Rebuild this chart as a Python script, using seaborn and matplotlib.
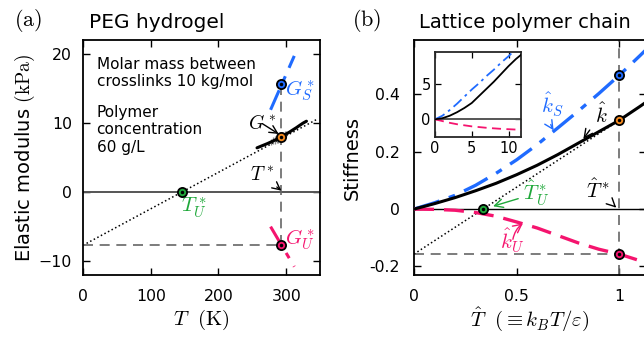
import numpy as np
import pandas as pd
import matplotlib
matplotlib.use("Agg")
import matplotlib.pyplot as plt
import seaborn as sns

# ---------------- data ----------------
# (a) PEG hydrogel
T_star = 293.0
G_S_star = 15.6
G_star = 8.0
G_U_star = -7.7
T_U_star = 146.0

exp_T = [257, 262, 267, 272, 277, 282, 285, 288, 291, 294, 297, 300, 305, 310, 315, 320, 325, 330]
exp_G = [6.40, 6.60, 6.80, 7.00, 7.22, 7.45, 7.59, 7.74, 7.89, 8.05, 8.22, 8.39, 8.68, 9.00, 9.31, 9.65, 9.98, 10.25]
err_T = [278, 281, 284, 286, 288, 290, 292, 294, 296, 298, 300]
err_G = [7.28, 7.41, 7.55, 7.64, 7.74, 7.84, 7.94, 8.05, 8.16, 8.28, 8.39]
err_size = [0.45, 0.5, 0.55, 0.6, 0.6, 0.6, 0.6, 0.6, 0.55, 0.5, 0.45]

tan_a_T = [0, 345]
tan_a_G = [-7.7, 10.5]
GS_line_T = [277, 312]
GS_line_G = [11.9, 19.7]
GU_line_T = [277, 312]
GU_line_G = [-5.0, -10.8]

# (b) lattice polymer chain
Th = [0, 0.1, 0.2, 0.3, 0.4, 0.5, 0.6, 0.7, 0.8, 0.9, 1.0, 1.1, 1.15]
k_hat = [0, 0.019, 0.040, 0.064, 0.090, 0.120, 0.153, 0.190, 0.230, 0.270, 0.310, 0.358, 0.383]
kS_hat = [0, 0.022, 0.048, 0.083, 0.125, 0.172, 0.225, 0.283, 0.342, 0.403, 0.467, 0.535, 0.570]
kU_hat = [0, -0.001, -0.004, -0.012, -0.025, -0.045, -0.066, -0.092, -0.118, -0.140, -0.157, -0.180, -0.192]
Th_star = 1.0
Th_U_star = 0.336
tan_b_T = [0, 1.0]
tan_b_k = [-0.157, 0.310]

# inset
ins_T = [0, 1, 2, 3, 4, 5, 6, 7, 8, 9, 10, 11, 11.7]
ins_k = [0, 0.15, 0.5, 1.0, 1.6, 2.3, 3.3, 4.3, 5.3, 6.4, 7.5, 8.5, 9.1]
ins_kS = [0, 0.5, 1.3, 2.2, 3.2, 4.2, 5.1, 6.1, 7.0, 8.0, 8.9, 9.9, 10.6]
ins_kU = [0, -0.25, -0.5, -0.7, -0.85, -1.0, -1.1, -1.2, -1.28, -1.35, -1.4, -1.45, -1.47]

# ---------------- style ----------------
sns.set_theme(style="ticks")
plt.rcParams["font.family"] = ["DejaVu Sans"]
plt.rcParams["mathtext.fontset"] = "cm"
plt.rcParams["axes.linewidth"] = 1.3
plt.rcParams["text.color"] = "black"
plt.rcParams["axes.labelcolor"] = "black"
plt.rcParams["xtick.color"] = "black"
plt.rcParams["ytick.color"] = "black"

BLUE = "#1f6bff"
PINK = "#f5146e"
GREEN = "#1fa83a"
ORANGE = "#f58a1f"
GREY = "#666666"

fig = plt.figure(figsize=(6.44, 3.37), dpi=100)
W, H = 644, 337
axA = fig.add_axes([83 / W, 1 - 275 / H, (320 - 83) / W, (275 - 40) / H])
axB = fig.add_axes([414 / W, 1 - 275 / H, (646 - 414) / W, (275 - 40) / H])
axI = fig.add_axes([435 / W, 1 - 137 / H, (521 - 435) / W, (137 - 52) / H])


def style_ax(ax, fs=11.3):
    ax.tick_params(direction="in", top=True, right=True, length=5, width=1.0,
                   labelsize=fs, colors="black")
    ax.tick_params(axis="x", pad=10)
    ax.tick_params(axis="y", pad=8)
    for s in ax.spines.values():
        s.set_color("black")


def marker(ax, x, y, c):
    ax.plot([x], [y], "o", ms=6.6, mfc=c, mec="black", mew=1.3, zorder=10)
    ax.plot([x], [y], "o", ms=1.5, color="black", zorder=11)


# ---------------- panel (a) ----------------
ax = axA
ax.set_xlim(0, 350)
ax.set_ylim(-12, 22)
ax.axhline(0, color="#555555", lw=1.4, zorder=1)
ax.plot(tan_a_T, tan_a_G, ":", color="black", lw=1.1, zorder=2)
ax.plot([T_star, T_star], [G_U_star, G_S_star], color=GREY, lw=1.2, dashes=(6, 4), zorder=2)
ax.plot([0, T_star], [G_U_star, G_U_star], color=GREY, lw=1.2, dashes=(6, 4), zorder=2)
ax.plot(GS_line_T, GS_line_G, color=BLUE, lw=2.2, dashes=(7, 3, 2, 3), zorder=3)
ax.plot(GU_line_T, GU_line_G, color=PINK, lw=2.2, dashes=(7, 3, 2, 3), zorder=3)
ax.errorbar(err_T, err_G, yerr=err_size, fmt="none", ecolor="#888888", elinewidth=0.9, zorder=4)
sns.lineplot(x=exp_T, y=exp_G, ax=ax, color="black", lw=2.2, zorder=5)
marker(ax, T_star, G_S_star, BLUE)
marker(ax, T_star, G_star, ORANGE)
marker(ax, T_star, G_U_star, PINK)
marker(ax, T_U_star, 0, GREEN)
ax.set_xticks([0, 100, 200, 300])
ax.set_yticks([-10, 0, 10, 20])
style_ax(ax)
ax.set_xlabel(r"$T\ \ (\mathrm{K})$", fontsize=15, labelpad=3)
ax.set_ylabel(r"Elastic modulus $(\mathrm{kPa})$", fontsize=14, labelpad=1)

ax.text(20, 19.6, "Molar mass between\ncrosslinks 10 kg/mol", fontsize=11, va="top",
        linespacing=1.2)
ax.text(20, 12.6, "Polymer\nconcentration\n60 g/L", fontsize=11, va="top", linespacing=1.2)
ax.text(298, 14.7, r"$G_S^*$", color=BLUE, fontsize=15, va="center")
ax.text(298, -6.9, r"$G_U^*$", color=PINK, fontsize=15, va="center")
ax.text(144, -2.3, r"$T_U^*$", color=GREEN, fontsize=15, va="center")
ax.annotate(r"$G^*$", xy=(T_star - 4, G_star + 0.4), xytext=(244, 9.9), fontsize=14,
            va="center", arrowprops=dict(arrowstyle="->", lw=1.0, color="black",
                                         shrinkA=0, shrinkB=0))
ax.annotate(r"$T^*$", xy=(T_star, 0.2), xytext=(246, 2.5), fontsize=14,
            va="center", arrowprops=dict(arrowstyle="->", lw=1.0, color="black",
                                         shrinkA=0, shrinkB=0))

# ---------------- panel (b) ----------------
ax = axB
ax.set_xlim(0, 1.13)
ax.set_ylim(-0.23, 0.59)
ax.axhline(0, color="black", lw=1.0, zorder=1)
ax.axvline(Th_star, color=GREY, lw=1.2, dashes=(6, 4), zorder=2)
ax.plot([0, Th_star], [kU_hat[10], kU_hat[10]], color=GREY, lw=1.2, dashes=(6, 4), zorder=2)
ax.plot(tan_b_T, tan_b_k, ":", color="black", lw=1.1, zorder=2)
sns.lineplot(x=Th, y=kS_hat, ax=ax, color=BLUE, lw=2.4, zorder=3)
ax.lines[-1].set_dashes((8, 3, 2, 3))
sns.lineplot(x=Th, y=kU_hat, ax=ax, color=PINK, lw=2.4, zorder=3)
ax.lines[-1].set_dashes((6, 3))
sns.lineplot(x=Th, y=k_hat, ax=ax, color="black", lw=2.2, zorder=4)
marker(ax, Th_star, kS_hat[10], BLUE)
marker(ax, Th_star, k_hat[10], ORANGE)
marker(ax, Th_star, kU_hat[10], PINK)
marker(ax, Th_U_star, 0, GREEN)
ax.set_xticks([0, 0.5, 1])
ax.set_xticklabels(["0", "0.5", "1"])
ax.set_yticks([-0.2, 0, 0.2, 0.4])
ax.set_yticklabels(["-0.2", "0", "0.2", "0.4"])
style_ax(ax)
ax.tick_params(axis="y", pad=10)
ax.set_xlabel(r"$\hat{T}\ \ (\equiv k_BT/\varepsilon)$", fontsize=15, labelpad=1)
ax.set_ylabel("Stiffness", fontsize=14, labelpad=6)

ax.annotate(r"$\hat{k}_S$", xy=(0.68, 0.275), xytext=(0.62, 0.365), fontsize=15, color=BLUE,
            va="center", arrowprops=dict(arrowstyle="->", lw=1.0, color=BLUE,
                                         connectionstyle="arc3,rad=0.3", shrinkA=2, shrinkB=0))
ax.annotate(r"$\hat{k}$", xy=(0.825, 0.245), xytext=(0.88, 0.33), fontsize=15, color="black",
            va="center", arrowprops=dict(arrowstyle="->", lw=1.0, color="black",
                                         shrinkA=2, shrinkB=0))
ax.annotate(r"$\hat{T}_U^*$", xy=(0.385, 0.01), xytext=(0.53, 0.055), fontsize=15, color=GREEN,
            va="center", arrowprops=dict(arrowstyle="->", lw=1.0, color=GREEN,
                                         shrinkA=1, shrinkB=0))
ax.annotate(r"$\hat{k}_U$", xy=(0.53, -0.05), xytext=(0.42, -0.11), fontsize=15, color=PINK,
            va="center", arrowprops=dict(arrowstyle="->", lw=1.0, color=PINK,
                                         connectionstyle="arc3,rad=-0.2", shrinkA=1, shrinkB=0))
ax.annotate(r"$\hat{T}^*$", xy=(0.985, 0.005), xytext=(0.84, 0.065), fontsize=15, color="black",
            va="center", arrowprops=dict(arrowstyle="->", lw=1.0, color="black",
                                         shrinkA=1, shrinkB=0))

# ---------------- inset ----------------
ax = axI
ax.set_xlim(0, 11.7)
ax.set_ylim(-2.5, 9.5)
ax.axhline(0, color="#555555", lw=1.4, zorder=1)
sns.lineplot(x=ins_T, y=ins_kS, ax=ax, color=BLUE, lw=1.3, zorder=3)
ax.lines[-1].set_dashes((6, 2.5, 1.5, 2.5))
sns.lineplot(x=ins_T, y=ins_kU, ax=ax, color=PINK, lw=1.3, zorder=3)
ax.lines[-1].set_dashes((5, 3))
sns.lineplot(x=ins_T, y=ins_k, ax=ax, color="black", lw=1.3, zorder=4)
ax.set_xticks([0, 5, 10])
ax.set_yticks([0, 5])
ax.tick_params(direction="in", top=True, right=True, length=4, width=0.9,
               labelsize=10.5, pad=3, colors="black")
ax.set_facecolor("white")

# ---------------- titles / panel labels ----------------
fig.text(157 / W, 1 - 22 / H, "PEG hydrogel", fontsize=14.5, ha="center", va="center")
fig.text(525 / W, 1 - 22 / H, "Lattice polymer chain", fontsize=14, ha="center", va="center")
fig.text(28 / W, 1 - 21 / H, r"$\mathrm{(a)}$", fontsize=16, ha="center", va="center")
fig.text(367 / W, 1 - 21 / H, r"$\mathrm{(b)}$", fontsize=16, ha="center", va="center")

fig.savefig("out.png", dpi=100)
